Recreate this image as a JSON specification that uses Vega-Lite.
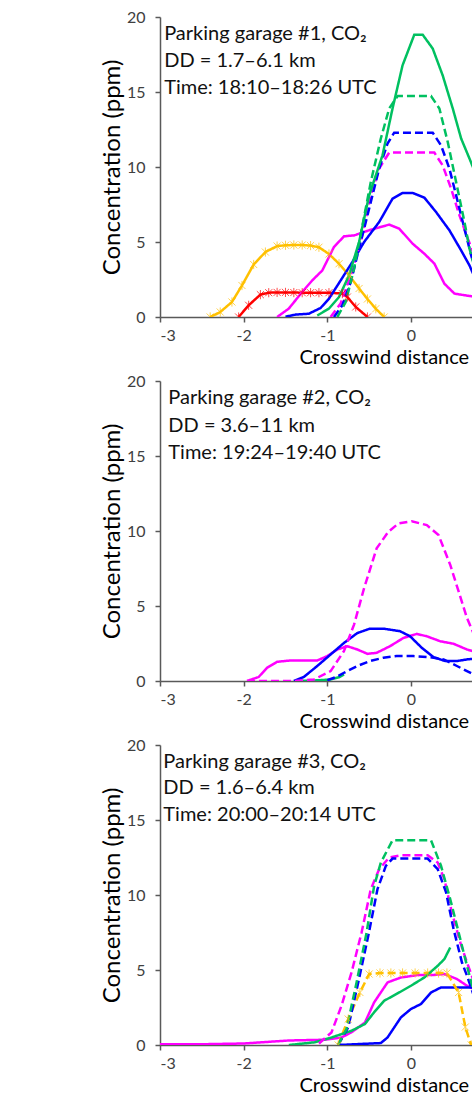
{
  "$schema": "https://vega.github.io/schema/vega-lite/v6.json",
  "background": "white",
  "padding": {"left": 100, "top": 9, "right": 0, "bottom": 0},
  "spacing": 64,
  "bounds": "flush",
  "config": {
    "font": "Lato",
    "view": {"stroke": null},
    "axis": {
      "labelFont": "Lato", "labelFontSize": 16, "labelColor": "#404040",
      "titleFont": "Lato", "titleFontSize": 24, "titleFontWeight": "normal", "titleColor": "#000000",
      "domainColor": "#595959", "tickColor": "#595959", "domainWidth": 1.5, "tickWidth": 1.5,
      "tickSize": 5, "grid": false, "labelOverlap": false
    },
    "axisX": {"titleFontSize": 20}
  },
  "datasets": {
    "p1": [
      {"s":"A","x":-2.40,"y":0},{"s":"A","x":-2.28,"y":0.33},{"s":"A","x":-2.14,"y":1.0},{"s":"A","x":-2.02,"y":2.1},{"s":"A","x":-1.88,"y":3.5},{"s":"A","x":-1.74,"y":4.33},{"s":"A","x":-1.60,"y":4.73},{"s":"A","x":-1.50,"y":4.78},{"s":"A","x":-1.40,"y":4.8},{"s":"A","x":-1.30,"y":4.8},{"s":"A","x":-1.20,"y":4.76},{"s":"A","x":-1.10,"y":4.65},{"s":"A","x":-0.98,"y":4.2},{"s":"A","x":-0.86,"y":3.55},{"s":"A","x":-0.74,"y":2.78},{"s":"A","x":-0.62,"y":1.9},{"s":"A","x":-0.52,"y":1.2},{"s":"A","x":-0.42,"y":0.55},{"s":"A","x":-0.32,"y":0},
      {"s":"B","x":-2.06,"y":0},{"s":"B","x":-1.94,"y":0.78},{"s":"B","x":-1.80,"y":1.49},{"s":"B","x":-1.70,"y":1.62},{"s":"B","x":-1.60,"y":1.64},{"s":"B","x":-1.50,"y":1.64},{"s":"B","x":-1.40,"y":1.63},{"s":"B","x":-1.30,"y":1.62},{"s":"B","x":-1.20,"y":1.62},{"s":"B","x":-1.10,"y":1.62},{"s":"B","x":-0.98,"y":1.62},{"s":"B","x":-0.82,"y":1.56},{"s":"B","x":-0.76,"y":1.33},{"s":"B","x":-0.66,"y":0.67},{"s":"B","x":-0.52,"y":0},
      {"s":"C","x":-1.60,"y":0},{"s":"C","x":-1.46,"y":0.56},{"s":"C","x":-1.30,"y":1.67},{"s":"C","x":-1.18,"y":2.44},{"s":"C","x":-1.06,"y":3.1},{"s":"C","x":-0.92,"y":4.67},{"s":"C","x":-0.80,"y":5.38},{"s":"C","x":-0.68,"y":5.44},{"s":"C","x":-0.50,"y":5.78},{"s":"C","x":-0.26,"y":6.16},{"s":"C","x":-0.14,"y":5.89},{"s":"C","x":0.02,"y":4.89},{"s":"C","x":0.16,"y":4.22},{"s":"C","x":0.28,"y":3.56},{"s":"C","x":0.40,"y":2.22},{"s":"C","x":0.52,"y":1.56},{"s":"C","x":0.70,"y":1.4},{"s":"C","x":0.85,"y":1.3},
      {"s":"D","x":-1.50,"y":0.02},{"s":"D","x":-1.38,"y":0.16},{"s":"D","x":-1.22,"y":0.22},{"s":"D","x":-1.08,"y":0.6},{"s":"D","x":-0.98,"y":1.22},{"s":"D","x":-0.84,"y":2.44},{"s":"D","x":-0.70,"y":3.67},{"s":"D","x":-0.56,"y":5.0},{"s":"D","x":-0.38,"y":6.33},{"s":"D","x":-0.22,"y":7.89},{"s":"D","x":-0.10,"y":8.27},{"s":"D","x":0.02,"y":8.27},{"s":"D","x":0.16,"y":7.96},{"s":"D","x":0.30,"y":7.0},{"s":"D","x":0.46,"y":5.78},{"s":"D","x":0.60,"y":4.44},{"s":"D","x":0.70,"y":3.44},{"s":"D","x":0.75,"y":2.8},{"s":"D","x":0.85,"y":2.0},
      {"s":"H","x":-0.96,"y":0},{"s":"H","x":-0.84,"y":0.9},{"s":"H","x":-0.72,"y":2.78},{"s":"H","x":-0.60,"y":5.0},{"s":"H","x":-0.48,"y":8.1},{"s":"H","x":-0.38,"y":9.89},{"s":"H","x":-0.26,"y":10.96},{"s":"H","x":0.28,"y":10.96},{"s":"H","x":0.38,"y":10.1},{"s":"H","x":0.48,"y":8.56},{"s":"H","x":0.58,"y":6.78},{"s":"H","x":0.68,"y":5.22},{"s":"H","x":0.80,"y":3.5},
      {"s":"G","x":-0.92,"y":0},{"s":"G","x":-0.82,"y":0.78},{"s":"G","x":-0.72,"y":2.33},{"s":"G","x":-0.62,"y":4.56},{"s":"G","x":-0.50,"y":7.22},{"s":"G","x":-0.38,"y":9.89},{"s":"G","x":-0.28,"y":11.56},{"s":"G","x":-0.20,"y":12.29},{"s":"G","x":0.26,"y":12.29},{"s":"G","x":0.36,"y":11.44},{"s":"G","x":0.46,"y":9.89},{"s":"G","x":0.56,"y":7.67},{"s":"G","x":0.66,"y":5.44},{"s":"G","x":0.72,"y":4.1},{"s":"G","x":0.85,"y":1.8},
      {"s":"F","x":-0.88,"y":0},{"s":"F","x":-0.78,"y":1.0},{"s":"F","x":-0.68,"y":3.22},{"s":"F","x":-0.58,"y":6.1},{"s":"F","x":-0.48,"y":9.0},{"s":"F","x":-0.36,"y":11.9},{"s":"F","x":-0.26,"y":13.9},{"s":"F","x":-0.16,"y":14.73},{"s":"F","x":0.24,"y":14.73},{"s":"F","x":0.34,"y":13.9},{"s":"F","x":0.44,"y":11.67},{"s":"F","x":0.54,"y":9.0},{"s":"F","x":0.64,"y":6.33},{"s":"F","x":0.70,"y":4.56},{"s":"F","x":0.80,"y":2.5},
      {"s":"E","x":-1.12,"y":0.1},{"s":"E","x":-0.98,"y":0.56},{"s":"E","x":-0.86,"y":1.33},{"s":"E","x":-0.74,"y":2.78},{"s":"E","x":-0.62,"y":5.0},{"s":"E","x":-0.50,"y":8.1},{"s":"E","x":-0.34,"y":10.78},{"s":"E","x":-0.22,"y":13.9},{"s":"E","x":-0.10,"y":16.78},{"s":"E","x":0.04,"y":18.82},{"s":"E","x":0.14,"y":18.82},{"s":"E","x":0.26,"y":17.9},{"s":"E","x":0.38,"y":16.1},{"s":"E","x":0.50,"y":13.9},{"s":"E","x":0.60,"y":11.9},{"s":"E","x":0.70,"y":10.56},{"s":"E","x":0.85,"y":8.5}
    ],
    "p2": [
      {"s":"E","x":-1.36,"y":0},{"s":"E","x":-1.20,"y":0.02},{"s":"E","x":-0.96,"y":0.1},{"s":"E","x":-0.86,"y":0.25},{"s":"E","x":-0.80,"y":0.44},
      {"s":"G","x":-1.00,"y":0.05},{"s":"G","x":-0.90,"y":0.25},{"s":"G","x":-0.80,"y":0.55},{"s":"G","x":-0.64,"y":1.0},{"s":"G","x":-0.49,"y":1.33},{"s":"G","x":-0.33,"y":1.55},{"s":"G","x":-0.17,"y":1.66},{"s":"G","x":0.03,"y":1.66},{"s":"G","x":0.23,"y":1.59},{"s":"G","x":0.39,"y":1.44},{"s":"G","x":0.55,"y":1.0},{"s":"G","x":0.67,"y":0.66},{"s":"G","x":0.80,"y":0.3},
      {"s":"C","x":-1.96,"y":0},{"s":"C","x":-1.82,"y":0.27},{"s":"C","x":-1.72,"y":0.88},{"s":"C","x":-1.60,"y":1.28},{"s":"C","x":-1.44,"y":1.37},{"s":"C","x":-1.12,"y":1.37},{"s":"C","x":-1.00,"y":1.66},{"s":"C","x":-0.88,"y":2.1},{"s":"C","x":-0.76,"y":2.32},{"s":"C","x":-0.64,"y":2.1},{"s":"C","x":-0.52,"y":1.81},{"s":"C","x":-0.41,"y":1.88},{"s":"C","x":-0.25,"y":2.32},{"s":"C","x":-0.09,"y":2.87},{"s":"C","x":0.07,"y":3.14},{"s":"C","x":0.19,"y":2.98},{"s":"C","x":0.35,"y":2.65},{"s":"C","x":0.51,"y":2.48},{"s":"C","x":0.67,"y":2.1},{"s":"C","x":0.80,"y":1.9},
      {"s":"D","x":-1.40,"y":0},{"s":"D","x":-1.28,"y":0.27},{"s":"D","x":-1.12,"y":1.0},{"s":"D","x":-0.96,"y":1.77},{"s":"D","x":-0.80,"y":2.54},{"s":"D","x":-0.64,"y":3.2},{"s":"D","x":-0.49,"y":3.49},{"s":"D","x":-0.33,"y":3.49},{"s":"D","x":-0.13,"y":3.32},{"s":"D","x":-0.01,"y":2.98},{"s":"D","x":0.13,"y":2.21},{"s":"D","x":0.27,"y":1.59},{"s":"D","x":0.41,"y":1.33},{"s":"D","x":0.55,"y":1.33},{"s":"D","x":0.67,"y":1.44},{"s":"D","x":0.80,"y":1.5},
      {"s":"H","x":-1.96,"y":0},{"s":"H","x":-1.40,"y":0},{"s":"H","x":-1.16,"y":0.1},{"s":"H","x":-0.96,"y":0.66},{"s":"H","x":-0.80,"y":2.0},{"s":"H","x":-0.68,"y":3.76},{"s":"H","x":-0.56,"y":6.19},{"s":"H","x":-0.41,"y":8.84},{"s":"H","x":-0.27,"y":9.95},{"s":"H","x":-0.15,"y":10.5},{"s":"H","x":0.01,"y":10.65},{"s":"H","x":0.19,"y":10.39},{"s":"H","x":0.33,"y":9.73},{"s":"H","x":0.47,"y":7.74},{"s":"H","x":0.57,"y":5.97},{"s":"H","x":0.67,"y":4.2},{"s":"H","x":0.80,"y":2.5}
    ],
    "p3": [
      {"s":"C","x":-3.0,"y":0.05},{"s":"C","x":-2.5,"y":0.05},{"s":"C","x":-2.0,"y":0.1},{"s":"C","x":-1.46,"y":0.3},{"s":"C","x":-1.03,"y":0.35},{"s":"C","x":-0.83,"y":0.5},{"s":"C","x":-0.71,"y":0.85},{"s":"C","x":-0.55,"y":1.5},{"s":"C","x":-0.44,"y":2.84},{"s":"C","x":-0.28,"y":4.17},{"s":"C","x":-0.12,"y":4.5},{"s":"C","x":0.08,"y":4.66},{"s":"C","x":0.24,"y":4.66},{"s":"C","x":0.40,"y":4.73},{"s":"C","x":0.55,"y":4.4},{"s":"C","x":0.67,"y":3.95},{"s":"C","x":0.80,"y":3.6},
      {"s":"D","x":-0.87,"y":0},{"s":"D","x":-0.36,"y":0.13},{"s":"D","x":-0.28,"y":0.5},{"s":"D","x":-0.12,"y":1.84},{"s":"D","x":0.0,"y":2.4},{"s":"D","x":0.12,"y":2.73},{"s":"D","x":0.24,"y":3.5},{"s":"D","x":0.36,"y":3.84},{"s":"D","x":0.67,"y":3.84},{"s":"D","x":0.80,"y":3.84},
      {"s":"I","x":-0.87,"y":0},{"s":"I","x":-0.75,"y":1.73},{"s":"I","x":-0.61,"y":3.5},{"s":"I","x":-0.50,"y":4.73},{"s":"I","x":-0.37,"y":4.8},{"s":"I","x":-0.24,"y":4.8},{"s":"I","x":-0.10,"y":4.8},{"s":"I","x":0.05,"y":4.8},{"s":"I","x":0.20,"y":4.8},{"s":"I","x":0.33,"y":4.8},{"s":"I","x":0.43,"y":4.8},{"s":"I","x":0.57,"y":3.5},{"s":"I","x":0.65,"y":1.2},{"s":"I","x":0.72,"y":0},
      {"s":"E","x":-1.46,"y":0},{"s":"E","x":-1.15,"y":0.18},{"s":"E","x":-0.95,"y":0.5},{"s":"E","x":-0.71,"y":0.95},{"s":"E","x":-0.55,"y":1.4},{"s":"E","x":-0.44,"y":2.18},{"s":"E","x":-0.32,"y":2.95},{"s":"E","x":-0.16,"y":3.44},{"s":"E","x":0.0,"y":3.95},{"s":"E","x":0.16,"y":4.5},{"s":"E","x":0.32,"y":5.28},{"s":"E","x":0.40,"y":5.73},{"s":"E","x":0.47,"y":6.5},
      {"s":"H","x":-1.10,"y":0.1},{"s":"H","x":-0.95,"y":0.84},{"s":"H","x":-0.83,"y":2.62},{"s":"H","x":-0.71,"y":4.84},{"s":"H","x":-0.59,"y":7.5},{"s":"H","x":-0.48,"y":10.39},{"s":"H","x":-0.38,"y":11.72},{"s":"H","x":-0.26,"y":12.5},{"s":"H","x":-0.12,"y":12.65},{"s":"H","x":0.20,"y":12.65},{"s":"H","x":0.32,"y":12.16},{"s":"H","x":0.40,"y":11.05},{"s":"H","x":0.49,"y":8.83},{"s":"H","x":0.59,"y":6.84},{"s":"H","x":0.67,"y":5.5},{"s":"H","x":0.80,"y":3.5},
      {"s":"G","x":-0.87,"y":0},{"s":"G","x":-0.75,"y":1.18},{"s":"G","x":-0.63,"y":4.17},{"s":"G","x":-0.51,"y":7.28},{"s":"G","x":-0.40,"y":10.39},{"s":"G","x":-0.30,"y":11.94},{"s":"G","x":-0.22,"y":12.43},{"s":"G","x":0.20,"y":12.43},{"s":"G","x":0.32,"y":11.72},{"s":"G","x":0.42,"y":10.17},{"s":"G","x":0.51,"y":7.72},{"s":"G","x":0.61,"y":5.5},{"s":"G","x":0.67,"y":4.62},{"s":"G","x":0.80,"y":2.5},
      {"s":"F","x":-0.87,"y":0},{"s":"F","x":-0.77,"y":1.07},{"s":"F","x":-0.65,"y":4.17},{"s":"F","x":-0.53,"y":7.5},{"s":"F","x":-0.44,"y":10.6},{"s":"F","x":-0.36,"y":12.16},{"s":"F","x":-0.22,"y":13.65},{"s":"F","x":0.24,"y":13.65},{"s":"F","x":0.36,"y":11.94},{"s":"F","x":0.47,"y":9.72},{"s":"F","x":0.59,"y":7.06},{"s":"F","x":0.67,"y":5.28},{"s":"F","x":0.80,"y":2.5}
    ]
  },
  "vconcat": [
    {
      "width": 312, "height": 300,
      "layer": [
        {"mark": {"type": "rule", "color": "#000000", "strokeWidth": 1}, "encoding": {"y": {"datum": 20, "type": "quantitative"}}},
        {
          "data": {"name": "p1"},
          "mark": {"type": "line", "clip": true, "strokeWidth": 2.5},
          "encoding": {
            "x": {"field": "x", "type": "quantitative", "scale": {"domain": [-3, 0.73], "nice": false, "zero": false},
              "axis": {"values": [-3, -2, -1, 0], "labelExpr": "'' + datum.value", "labelPadding": 5, "title": "Crosswind distance", "titleX": 139, "titleAlign": "left", "titleAnchor": "start", "titleBaseline": "alphabetic", "titleY": 46}},
            "y": {"field": "y", "type": "quantitative", "scale": {"domain": [0, 20], "nice": false},
              "axis": {"values": [0, 2.5, 5, 7.5, 10, 12.5, 15, 17.5, 20], "labelExpr": "datum.value % 5 === 0 ? datum.label : ''", "labelPadding": 10, "title": "Concentration (ppm)", "titlePadding": 2}},
            "color": {"field": "s", "type": "nominal", "legend": null, "scale": {"domain": ["A","B","C","D","E","F","G","H","I"], "range": ["#FFC000","#FF0000","#FF00FF","#0000FF","#00C060","#00C060","#0000FF","#FF00FF","#FFC000"]}},
            "strokeDash": {"field": "s", "type": "nominal", "legend": null, "scale": {"domain": ["A","B","C","D","E","F","G","H","I"], "range": [[1,0],[1,0],[1,0],[1,0],[1,0],[8,4],[8,4],[8,4],[8,4]]}}
          }
        },
        {
          "data": {"name": "p1"},
          "transform": [{"filter": {"field": "s", "oneOf": ["A", "B", "I"]}}],
          "mark": {"type": "point", "clip": true, "filled": false, "size": 50, "strokeWidth": 1, "shape": "M-1,-1L1,1M-1,1L1,-1M0,-1.3L0,1.3"},
          "encoding": {
            "x": {"field": "x", "type": "quantitative"},
            "y": {"field": "y", "type": "quantitative"},
            "color": {"field": "s", "type": "nominal", "legend": null, "scale": {"domain": ["A","B","C","D","E","F","G","H","I"], "range": ["#FFC000","#FF0000","#FF00FF","#0000FF","#00C060","#00C060","#0000FF","#FF00FF","#FFC000"]}}
          }
        },
        {
          "data": {"values": [{"label": "Parking garage #1, CO₂\nDD = 1.7–6.1 km\nTime: 18:10–18:26 UTC"}]},
          "mark": {"type": "text", "align": "left", "baseline": "alphabetic", "fontSize": 20, "lineHeight": 27, "lineBreak": "\n", "color": "#111111", "font": "Lato"},
          "encoding": {"x": {"datum": -2.95, "type": "quantitative"}, "y": {"datum": 18.5, "type": "quantitative"}, "text": {"field": "label"}}
        }
      ]
    },
    {
      "width": 312, "height": 300,
      "layer": [
        {"mark": {"type": "rule", "color": "#000000", "strokeWidth": 1}, "encoding": {"y": {"datum": 20, "type": "quantitative"}}},
        {
          "data": {"name": "p2"},
          "mark": {"type": "line", "clip": true, "strokeWidth": 2.5},
          "encoding": {
            "x": {"field": "x", "type": "quantitative", "scale": {"domain": [-3, 0.73], "nice": false, "zero": false},
              "axis": {"values": [-3, -2, -1, 0], "labelExpr": "'' + datum.value", "labelPadding": 5, "title": "Crosswind distance", "titleX": 139, "titleAlign": "left", "titleAnchor": "start", "titleBaseline": "alphabetic", "titleY": 46}},
            "y": {"field": "y", "type": "quantitative", "scale": {"domain": [0, 20], "nice": false},
              "axis": {"values": [0, 2.5, 5, 7.5, 10, 12.5, 15, 17.5, 20], "labelExpr": "datum.value % 5 === 0 ? datum.label : ''", "labelPadding": 10, "title": "Concentration (ppm)", "titlePadding": 2}},
            "color": {"field": "s", "type": "nominal", "legend": null, "scale": {"domain": ["A","B","C","D","E","F","G","H","I"], "range": ["#FFC000","#FF0000","#FF00FF","#0000FF","#00C060","#00C060","#0000FF","#FF00FF","#FFC000"]}},
            "strokeDash": {"field": "s", "type": "nominal", "legend": null, "scale": {"domain": ["A","B","C","D","E","F","G","H","I"], "range": [[1,0],[1,0],[1,0],[1,0],[1,0],[8,4],[8,4],[8,4],[8,4]]}}
          }
        },
        {
          "data": {"values": [{"label": "Parking garage #2, CO₂\nDD = 3.6–11 km\nTime: 19:24–19:40 UTC"}]},
          "mark": {"type": "text", "align": "left", "baseline": "alphabetic", "fontSize": 20, "lineHeight": 27.5, "lineBreak": "\n", "color": "#111111", "font": "Lato"},
          "encoding": {"x": {"datum": -2.9, "type": "quantitative"}, "y": {"datum": 18.45, "type": "quantitative"}, "text": {"field": "label"}}
        }
      ]
    },
    {
      "width": 312, "height": 300,
      "layer": [
        {"mark": {"type": "rule", "color": "#000000", "strokeWidth": 1}, "encoding": {"y": {"datum": 20, "type": "quantitative"}}},
        {
          "data": {"name": "p3"},
          "mark": {"type": "line", "clip": true, "strokeWidth": 2.5},
          "encoding": {
            "x": {"field": "x", "type": "quantitative", "scale": {"domain": [-3, 0.73], "nice": false, "zero": false},
              "axis": {"values": [-3, -2, -1, 0], "labelExpr": "'' + datum.value", "labelPadding": 5, "title": "Crosswind distance", "titleX": 139, "titleAlign": "left", "titleAnchor": "start", "titleBaseline": "alphabetic", "titleY": 46}},
            "y": {"field": "y", "type": "quantitative", "scale": {"domain": [0, 20], "nice": false},
              "axis": {"values": [0, 2.5, 5, 7.5, 10, 12.5, 15, 17.5, 20], "labelExpr": "datum.value % 5 === 0 ? datum.label : ''", "labelPadding": 10, "title": "Concentration (ppm)", "titlePadding": 2}},
            "color": {"field": "s", "type": "nominal", "legend": null, "scale": {"domain": ["A","B","C","D","E","F","G","H","I"], "range": ["#FFC000","#FF0000","#FF00FF","#0000FF","#00C060","#00C060","#0000FF","#FF00FF","#FFC000"]}},
            "strokeDash": {"field": "s", "type": "nominal", "legend": null, "scale": {"domain": ["A","B","C","D","E","F","G","H","I"], "range": [[1,0],[1,0],[1,0],[1,0],[1,0],[8,4],[8,4],[8,4],[8,4]]}}
          }
        },
        {
          "data": {"name": "p3"},
          "transform": [{"filter": {"field": "s", "oneOf": ["A", "B", "I"]}}],
          "mark": {"type": "point", "clip": true, "filled": false, "size": 50, "strokeWidth": 1, "shape": "M-1,-1L1,1M-1,1L1,-1M0,-1.3L0,1.3"},
          "encoding": {
            "x": {"field": "x", "type": "quantitative"},
            "y": {"field": "y", "type": "quantitative"},
            "color": {"field": "s", "type": "nominal", "legend": null, "scale": {"domain": ["A","B","C","D","E","F","G","H","I"], "range": ["#FFC000","#FF0000","#FF00FF","#0000FF","#00C060","#00C060","#0000FF","#FF00FF","#FFC000"]}}
          }
        },
        {
          "data": {"values": [{"label": "Parking garage #3, CO₂\nDD = 1.6–6.4 km\nTime: 20:00–20:14 UTC"}]},
          "mark": {"type": "text", "align": "left", "baseline": "alphabetic", "fontSize": 20, "lineHeight": 26.7, "lineBreak": "\n", "color": "#111111", "font": "Lato"},
          "encoding": {"x": {"datum": -2.96, "type": "quantitative"}, "y": {"datum": 18.5, "type": "quantitative"}, "text": {"field": "label"}}
        }
      ]
    }
  ]
}
